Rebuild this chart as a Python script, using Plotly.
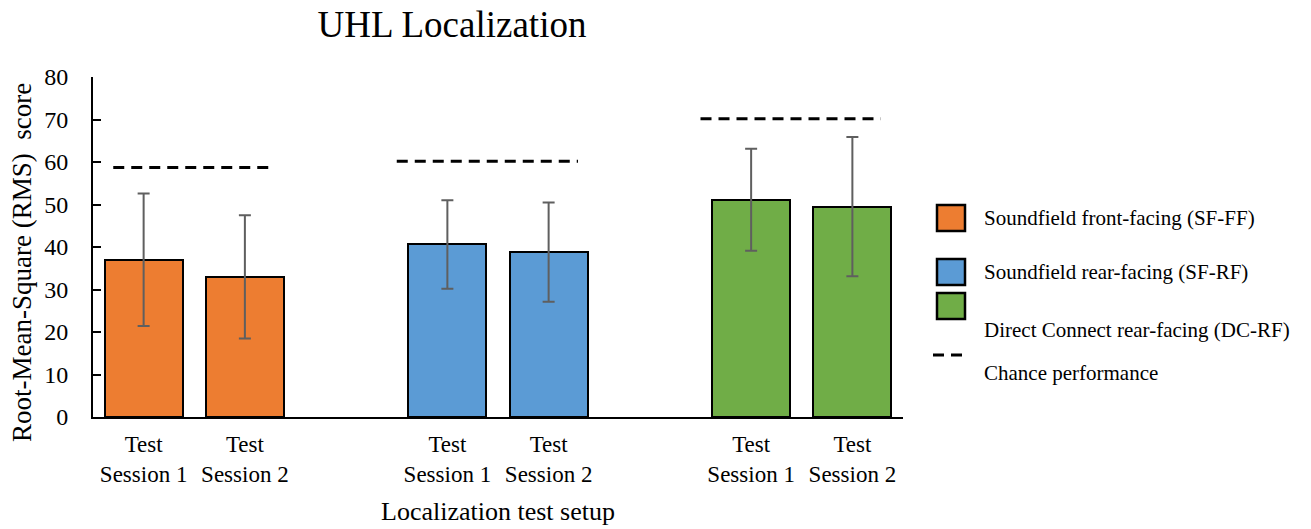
import plotly.graph_objects as go

# ---- data -------------------------------------------------------------
setups = [
    "Soundfield front-facing (SF-FF)",
    "Soundfield rear-facing (SF-RF)",
    "Direct Connect rear-facing (DC-RF)",
]
sessions = ["Test<br>Session 1", "Test<br>Session 2"]

sf_ff_mean = [37.0, 33.0]
sf_ff_err = [15.6, 14.5]
sf_rf_mean = [40.6, 38.8]
sf_rf_err = [10.4, 11.7]
dc_rf_mean = [51.1, 49.5]
dc_rf_err = [12.0, 16.4]

chance_rms = [58.7, 60.2, 70.2]

# ---- style ------------------------------------------------------------
FONT = "Liberation Serif"
colors = ["#ED7D31", "#5B9BD5", "#70AD47"]
ERR_COLOR = "#5f5f5f"
W, H = 1311, 529
ML, MR, MT, MB = 93, 408, 77, 112
SLOTS_PER_GROUP = 3          # two sessions + one empty gap
BAR_WIDTH = 0.77
# horizontal reach of each chance line around its group centre (slot units)
chance_reach = [(0.80, 0.78), (1.0, 0.79), (1.0, 0.78)]

means = [sf_ff_mean, sf_rf_mean, dc_rf_mean]
errs = [sf_ff_err, sf_rf_err, dc_rf_err]

fig = go.Figure()

tickvals, ticktext = [], []
for g, name in enumerate(setups):
    xs = [g * SLOTS_PER_GROUP + s for s in range(len(sessions))]
    tickvals += xs
    ticktext += sessions
    fig.add_trace(go.Bar(
        x=xs, y=means[g], name=name, width=BAR_WIDTH,
        marker=dict(color=colors[g], line=dict(color="black", width=2)),
        error_y=dict(type="data", array=errs[g], color=ERR_COLOR,
                     thickness=2, width=6),
        showlegend=False,
    ))
    centre = g * SLOTS_PER_GROUP + (len(sessions) - 1) / 2
    left, right = chance_reach[g]
    fig.add_trace(go.Scatter(
        x=[centre - left, centre + right], y=[chance_rms[g]] * 2,
        mode="lines", line=dict(color="black", width=3, dash="11px,7px"),
        name="Chance performance", showlegend=False, hoverinfo="skip",
    ))

last_slot = max(tickvals)

# ---- hand-built legend at the right ------------------------------------
plot_w = W - ML - MR
plot_h = H - MT - MB


def px_x(px):
    return (px - ML) / plot_w


def px_y(py):
    return (H - MB - py) / plot_h


shapes = []
annotations = []
legend_rows = [218, 272, 306]      # swatch centres
legend_text_y = [218, 272, 330]
for i, name in enumerate(setups):
    cy = legend_rows[i]
    shapes.append(dict(
        type="rect", xref="paper", yref="paper",
        x0=px_x(937), x1=px_x(965), y0=px_y(cy + 13), y1=px_y(cy - 13),
        fillcolor=colors[i], line=dict(color="black", width=2.5),
    ))
    annotations.append(dict(
        text=name, xref="paper", yref="paper", x=px_x(982), y=px_y(legend_text_y[i]),
        xanchor="left", yanchor="middle", showarrow=False,
        font=dict(family=FONT, size=21, color="black"),
    ))
shapes.append(dict(
    type="line", xref="paper", yref="paper",
    x0=px_x(933), x1=px_x(963), y0=px_y(355), y1=px_y(355),
    line=dict(color="black", width=3, dash="11px,7px"),
))
annotations.append(dict(
    text="Chance performance", xref="paper", yref="paper",
    x=px_x(982), y=px_y(373), xanchor="left", yanchor="middle",
    showarrow=False, font=dict(family=FONT, size=21, color="black"),
))

# vertical axis caption, sitting a little below the plot-area centre
annotations.append(dict(
    text="Root-Mean-Square (RMS)  score", textangle=-90,
    xref="paper", yref="paper", x=px_x(22), y=px_y(263),
    xanchor="center", yanchor="middle", showarrow=False,
    font=dict(family=FONT, size=27, color="black"),
))

fig.update_layout(
    width=W, height=H,
    margin=dict(l=ML, r=MR, t=MT, b=MB, autoexpand=False),
    paper_bgcolor="white", plot_bgcolor="white",
    font=dict(family=FONT, color="black"),
    title=dict(
        text="UHL Localization", x=452 / W, xanchor="center",
        y=1 - 24 / H, yanchor="middle", xref="container", yref="container",
        font=dict(family=FONT, size=37, color="black"),
    ),
    bargap=0,
    shapes=shapes,
    annotations=annotations,
    showlegend=False,
)

fig.update_xaxes(
    range=[-0.5, last_slot + 0.5],
    tickvals=tickvals, ticktext=ticktext,
    tickfont=dict(family=FONT, size=23, color="black"),
    showline=True, linecolor="black", linewidth=2,
    ticks="", showgrid=False, zeroline=False,
    ticklabelstandoff=5,
    title=dict(text="Localization test setup", standoff=16,
               font=dict(family=FONT, size=26, color="black")),
)
fig.update_yaxes(
    range=[0, 80], dtick=10,
    tickfont=dict(family=FONT, size=24, color="black"),
    showline=True, linecolor="black", linewidth=2,
    ticks="inside", ticklen=8, tickwidth=2, tickcolor="black",
    ticklabelstandoff=18,
    showgrid=False, zeroline=False,
)

fig.write_html("out.html")
